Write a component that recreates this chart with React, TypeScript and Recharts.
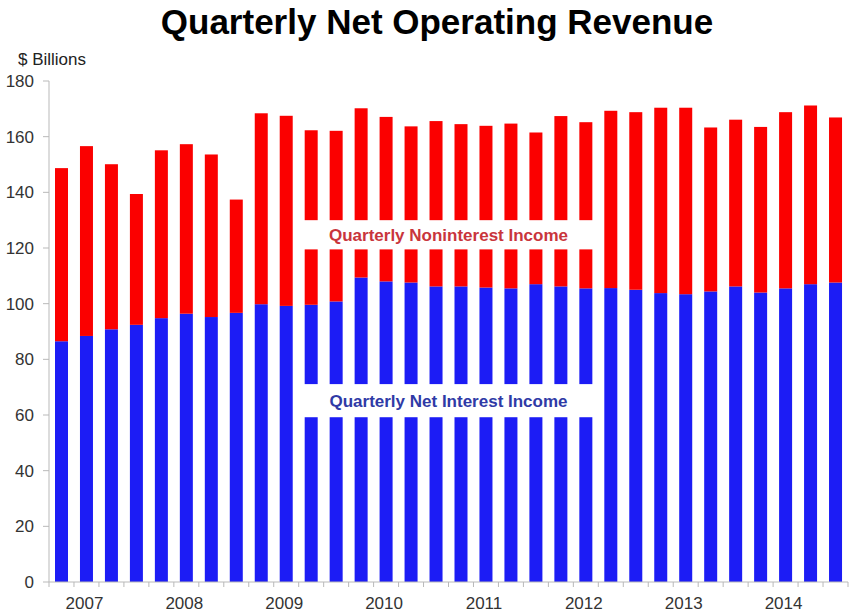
import { Bar, BarChart, ReferenceArea, XAxis, YAxis } from 'recharts'

// quarterly data, $ billions, 2007 Q1 – 2014 Q4
const years = [2007, 2008, 2009, 2010, 2011, 2012, 2013, 2014]
const quarters = ['Q1', 'Q2', 'Q3', 'Q4']

const netInterest = [
  86.5, 88.4, 90.8, 92.4, 94.8, 96.4, 95.2, 96.7,
  99.8, 99.2, 99.6, 100.8, 109.4, 108.0, 107.6, 106.2,
  106.2, 105.8, 105.5, 107.0, 106.2, 105.5, 105.6, 105.0,
  103.8, 103.4, 104.4, 106.2, 104.0, 105.5, 107.0, 107.6,
]
const nonInterest = [
  62.2, 68.2, 59.3, 47.0, 60.3, 60.9, 58.4, 40.7,
  68.6, 68.3, 62.7, 61.3, 60.8, 59.1, 56.1, 59.4,
  58.3, 58.1, 59.2, 54.5, 61.2, 59.7, 63.7, 63.8,
  66.6, 67.0, 58.9, 59.9, 59.5, 63.3, 64.2, 59.3,
]

const yTicks = [0, 20, 40, 60, 80, 100, 120, 140, 160, 180]

// white label bands cut through the bars
const labelFrom = '2009Q3'
const labelTo = '2012Q2'
const nonInterestBand = [119.5, 130]
const netInterestBand = [59.2, 71.1]

const W = 852
const H = 612
const M = { top: 81, right: 4, left: 4, bottom: 2 }
const Y_W = 45
const BLUE = '#1c1cf5'
const RED = '#fb0000'
const AXIS = '#b9b9b9'

const keys = years.flatMap((y) => quarters.map((q) => `${y}${q}`))
const data = keys.map((q, i) => ({ q, netInterest: netInterest[i], nonInterest: nonInterest[i] }))
const inLabel = (q: string) => q >= labelFrom && q <= labelTo

const band = (W - M.left - Y_W - M.right) / keys.length

function gapShape(key: 'netInterest' | 'nonInterest', baseKey: 'netInterest' | null, gap: number[]) {
  return (props: any) => {
    const { x, y, width, height, fill, payload } = props
    if (!inLabel(payload.q) || height <= 0) return <rect x={x} y={y} width={width} height={height} fill={fill} />
    const base = baseKey ? payload[baseKey] : 0
    const top = base + payload[key]
    const ppu = height / payload[key]
    const yHi = y + (top - gap[1]) * ppu
    const yLo = y + (top - gap[0]) * ppu
    return (
      <g>
        <rect x={x} y={y} width={width} height={Math.max(0, yHi - y)} fill={fill} />
        <rect x={x} y={yLo} width={width} height={Math.max(0, y + height - yLo)} fill={fill} />
      </g>
    )
  }
}

function XTick(props: any) {
  const { x, y, index, payload } = props
  const q = String(payload.value)
  return (
    <g>
      <line x1={x - band / 2} x2={x - band / 2} y1={y} y2={y + 5} stroke={AXIS} />
      {index === keys.length - 1 && <line x1={x + band / 2} x2={x + band / 2} y1={y} y2={y + 5} stroke={AXIS} />}
      {q.endsWith('Q2') && (
        <text x={x - 2} y={y + 27} textAnchor="middle" fontSize={17} fill="#333">
          {q.slice(0, 4)}
        </text>
      )}
    </g>
  )
}

export default function App() {
  return (
    <div style={{ position: 'absolute', left: 0, top: 0, width: W, height: H, background: '#fff', fontFamily: 'Arial, "Liberation Sans", sans-serif' }}>
      <div style={{ position: 'absolute', left: 0, top: 2, width: 874, textAlign: 'center', fontSize: 35, fontWeight: 700, color: '#000', lineHeight: '40px' }}>
        Quarterly Net Operating Revenue
      </div>
      <div style={{ position: 'absolute', left: 18, top: 50, fontSize: 17, color: '#222', lineHeight: '20px' }}>$ Billions</div>
      <BarChart width={W} height={H} data={data} margin={M} barSize={13}>
        <XAxis
          dataKey="q"
          height={28}
          interval={0}
          tickLine={false}
          tickSize={0}
          tickMargin={0}
          axisLine={{ stroke: AXIS }}
          tick={<XTick />}
        />
        <YAxis
          width={Y_W}
          domain={[0, 180]}
          ticks={yTicks}
          interval={0}
          tickSize={6}
          tickMargin={9}
          axisLine={{ stroke: AXIS }}
          tickLine={{ stroke: AXIS }}
          tick={{ fontSize: 17, fill: '#333' }}
        />
        <Bar dataKey="netInterest" stackId="a" fill={BLUE} isAnimationActive={false} shape={gapShape('netInterest', null, netInterestBand)} />
        <Bar dataKey="nonInterest" stackId="a" fill={RED} isAnimationActive={false} shape={gapShape('nonInterest', 'netInterest', nonInterestBand)} />
        <ReferenceArea
          x1={labelFrom}
          x2={labelTo}
          y1={nonInterestBand[0]}
          y2={nonInterestBand[1]}
          fill="none"
          stroke="none"
          label={{ value: 'Quarterly Noninterest Income', position: 'center', fill: '#c9353c', fontSize: 17, fontWeight: 700 }}
        />
        <ReferenceArea
          x1={labelFrom}
          x2={labelTo}
          y1={netInterestBand[0]}
          y2={netInterestBand[1]}
          fill="none"
          stroke="none"
          label={{ value: 'Quarterly Net Interest Income', position: 'center', fill: '#2f3aa6', fontSize: 17, fontWeight: 700 }}
        />
      </BarChart>
    </div>
  )
}
